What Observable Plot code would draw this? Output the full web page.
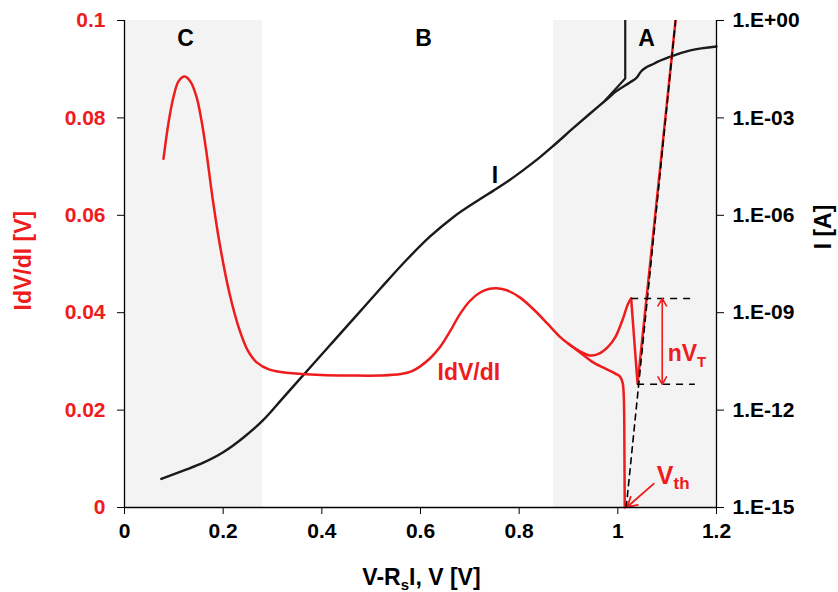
<!DOCTYPE html>
<html><head><meta charset="utf-8">
<script src="https://cdn.jsdelivr.net/npm/d3@7"></script>
<script src="https://cdn.jsdelivr.net/npm/@observablehq/plot@0.6"></script>
<style>body{margin:0;background:#fff}#chart svg{display:block}</style>
</head><body><div id="chart"></div>
<script>
// ---- tick values / labels
const X_TICKS = [0, 0.2, 0.4, 0.6, 0.8, 1, 1.2];
const Y_TICKS = [0, 0.02, 0.04, 0.06, 0.08, 0.1];
const I_DECADES = [-15, -12, -9, -6, -3, 0];
const I_TICK_LABELS = ["1.E-15", "1.E-12", "1.E-09", "1.E-06", "1.E-03", "1.E+00"];

// ---- shaded regions
const REGION_START = [0, 0.87];
const REGION_END = [0.28, 1.2];
const REGION_LABELS = ["C", "B", "A"];
const REGION_LABEL_X = [0.124, 0.606, 1.058];

// ---- I (log10 A) vs V-RsI
const I_V   = [0.0745, 0.118, 0.160, 0.200, 0.240, 0.281, 0.321, 0.369, 0.423, 0.470, 0.518, 0.572, 0.619, 0.667, 0.721, 0.748, 0.780, 0.809, 0.843, 0.870, 0.910, 0.945, 0.979, 0.995, 1.025, 1.039, 1.046, 1.073, 1.107, 1.147, 1.2];
const I_LOG = [-14.12, -13.87, -13.62, -13.30, -12.86, -12.31, -11.63, -10.81, -9.89, -9.09, -8.27, -7.37, -6.66, -6.05, -5.50, -5.24, -4.92, -4.60, -4.20, -3.85, -3.31, -2.85, -2.41, -2.20, -1.90, -1.75, -1.59, -1.33, -1.11, -0.92, -0.80];
// ---- I vs V branch
const IV_V   = [0.975, 0.995, 1.015, 1.015];
const IV_LOG = [-2.45, -2.12, -1.79, 0];

// ---- IdV/dI
const R_V   = [0.079, 0.090, 0.100, 0.110, 0.122, 0.134, 0.146, 0.156, 0.166, 0.179, 0.193, 0.213, 0.234, 0.250, 0.268, 0.294, 0.335, 0.40, 0.457, 0.518, 0.560, 0.585, 0.619, 0.640, 0.660, 0.680, 0.700, 0.720, 0.740, 0.755, 0.775, 0.802, 0.830, 0.857, 0.880, 0.900, 0.924, 0.944, 0.962, 0.980, 0.995, 1.009, 1.021, 1.027];
const R_VAL = [0.0716, 0.0795, 0.0846, 0.0876, 0.0885, 0.0874, 0.0843, 0.0795, 0.0730, 0.0632, 0.0541, 0.0439, 0.0362, 0.0322, 0.0298, 0.0283, 0.0276, 0.0272, 0.0271, 0.0271, 0.0274, 0.0281, 0.0306, 0.0330, 0.0362, 0.0397, 0.0424, 0.0441, 0.0449, 0.0450, 0.0446, 0.0431, 0.0406, 0.0378, 0.0353, 0.0336, 0.0320, 0.0312, 0.0316, 0.0330, 0.0350, 0.0384, 0.0419, 0.0429];
const R_EDGE_V   = [1.027, 1.040, 1.117];
const R_EDGE_VAL = [0.0429, 0.0254, 0.1];
const RL_V   = [0.900, 0.924, 0.950, 0.975, 0.995, 1.005, 1.010, 1.012, 1.013, 1.014];
const RL_VAL = [0.0336, 0.0318, 0.0298, 0.0285, 0.0275, 0.0268, 0.0255, 0.0230, 0.0179, 0];

// ---- construction lines
const FIT_V = [1.017, 1.117];
const FIT_VAL = [0, 0.1];
const NVT_TOP = 0.0429, NVT_BOT = 0.0253;
const NVT_TOP_X = [1.028, 1.154];
const NVT_BOT_X = [1.040, 1.157];
const NVT_ARROW_X = 1.090;

const toY = l => 0.1 * (l + 15) / 15;
const RED = "#ee1c1c";
const FONT = '"Liberation Sans", Arial, sans-serif';

const iData = I_V.map((v, i) => ({v, y: toY(I_LOG[i])}));
const ivData = IV_V.map((v, i) => ({v, y: toY(IV_LOG[i])}));
const rData = R_V.map((v, i) => ({v, y: R_VAL[i]}));
const rEdge = R_EDGE_V.map((v, i) => ({v, y: R_EDGE_VAL[i]}));
const rlData = RL_V.map((v, i) => ({v, y: RL_VAL[i]}));
const regions = REGION_START.map((s, i) => ({x1: s, x2: REGION_END[i]}));
const midNvt = (NVT_TOP + NVT_BOT) / 2;

const chart = Plot.plot({
  width: 838, height: 592,
  marginLeft: 124, marginRight: 122, marginTop: 20, marginBottom: 85,
  style: {fontFamily: FONT, fontWeight: "bold", background: "white", overflow: "visible"},
  x: {domain: [0, 1.2], label: null},
  y: {domain: [0, 0.1], label: null},
  marks: [
    Plot.rect(regions, {x1: "x1", x2: "x2", fill: "#f3f3f3"}),
    Plot.line(iData, {x: "v", y: "y", stroke: "#1a1a1a", strokeWidth: 2.4, curve: "monotone-x"}),
    Plot.line(ivData, {x: "v", y: "y", stroke: "#1a1a1a", strokeWidth: 2.2, clip: true}),
    Plot.line(rData, {x: "v", y: "y", stroke: RED, strokeWidth: 2.5, curve: "catmull-rom"}),
    Plot.line(rEdge, {x: "v", y: "y", stroke: RED, strokeWidth: 2.5, clip: true}),
    Plot.line(rlData, {x: "v", y: "y", stroke: RED, strokeWidth: 2.5, curve: "monotone-x"}),
    Plot.line(FIT_V.map((v, i) => ({v, y: FIT_VAL[i]})), {x: "v", y: "y", stroke: "black", strokeWidth: 1.6, strokeDasharray: "6,5", clip: true}),
    Plot.ruleY([NVT_TOP], {x1: NVT_TOP_X[0], x2: NVT_TOP_X[1], stroke: "black", strokeWidth: 1.5, strokeDasharray: "7,6"}),
    Plot.ruleY([NVT_BOT], {x1: NVT_BOT_X[0], x2: NVT_BOT_X[1], stroke: "black", strokeWidth: 1.5, strokeDasharray: "7,6"}),
    Plot.arrow([{y1: midNvt, y2: NVT_TOP}, {y1: midNvt, y2: NVT_BOT}], {x1: NVT_ARROW_X, x2: NVT_ARROW_X, y1: "y1", y2: "y2", stroke: RED, strokeWidth: 1.6, headLength: 8, bend: 0, insetEnd: 0}),
    Plot.arrow([{x1: 1.073, y1: 0.0049, x2: 1.019, y2: 0.0001}], {x1: "x1", y1: "y1", x2: "x2", y2: "y2", stroke: RED, strokeWidth: 1.8, headLength: 9, bend: 0}),
    // axes lines
    Plot.ruleX([0, 1.2], {stroke: "black", strokeWidth: 1.3}),
    Plot.ruleY([0], {stroke: "black", strokeWidth: 1.3}),
    Plot.axisX(X_TICKS, {tickFormat: d => String(+d.toFixed(1)), tickSize: 7, tickPadding: 9, fontSize: 21, stroke: "black", fill: "black", label: null}),
    Plot.axisY(Y_TICKS, {anchor: "left", tickFormat: d => String(+d.toFixed(2)), tickSize: 7, tickPadding: 12, fontSize: 21, stroke: "black", fill: RED, label: null}),
    Plot.axisY(I_DECADES.map(toY), {anchor: "right", tickFormat: d => I_TICK_LABELS[I_DECADES.indexOf(Math.round(d * 150 - 15))], tickSize: 7, tickPadding: 9, fontSize: 21, stroke: "black", fill: "black", label: null}),
    // labels
    Plot.text(REGION_LABELS, {x: (d, i) => REGION_LABEL_X[i], y: 0.0963, text: d => d, fontSize: 23, fontWeight: "bold", fill: "black"}),
    Plot.text(["I"], {x: 0.751, y: 0.0681, fontSize: 23, fontWeight: "bold", fill: "black"}),
    Plot.text(["IdV/dI"], {x: 0.698, y: 0.0276, fontSize: 23, fontWeight: "bold", fill: RED}),
    Plot.text(["nVT"], {x: 1.101, y: 0.0316, textAnchor: "start", fontSize: 23, fontWeight: "bold", fill: RED}),
    Plot.text(["Vth"], {x: 1.079, y: 0.0064, textAnchor: "start", fontSize: 25, fontWeight: "bold", fill: RED}),
    Plot.text(["IdV/dI [V]"], {x: -0.2047, y: 0.0507, rotate: -90, fontSize: 23, fontWeight: "bold", fill: RED}),
    Plot.text(["I [A]"], {x: 1.417, y: 0.0576, rotate: -90, fontSize: 23, fontWeight: "bold", fill: "black"}),
    Plot.text(["V-RsI, V [V]"], {x: 0.602, y: -0.0144, fontSize: 23, fontWeight: "bold", fill: "black"})
  ]
});

function subscript(svg, full, parts) {
  d3.select(svg).selectAll("text").filter(function () { return this.textContent === full; }).each(function () {
    const t = d3.select(this);
    t.text(null);
    parts.forEach(p => {
      const s = t.append("tspan").text(p.t);
      if (p.size) s.attr("font-size", p.size);
      if (p.dy) s.attr("dy", p.dy);
    });
  });
}
subscript(chart, "V-RsI, V [V]", [{t: "V-R"}, {t: "s", size: 15, dy: 5}, {t: "I, V [V]", dy: -5}]);
subscript(chart, "nVT", [{t: "nV"}, {t: "T", size: 15, dy: 6}]);
subscript(chart, "Vth", [{t: "V"}, {t: "th", size: 17, dy: 5}]);

document.getElementById("chart").appendChild(chart);
</script>
</body></html>
